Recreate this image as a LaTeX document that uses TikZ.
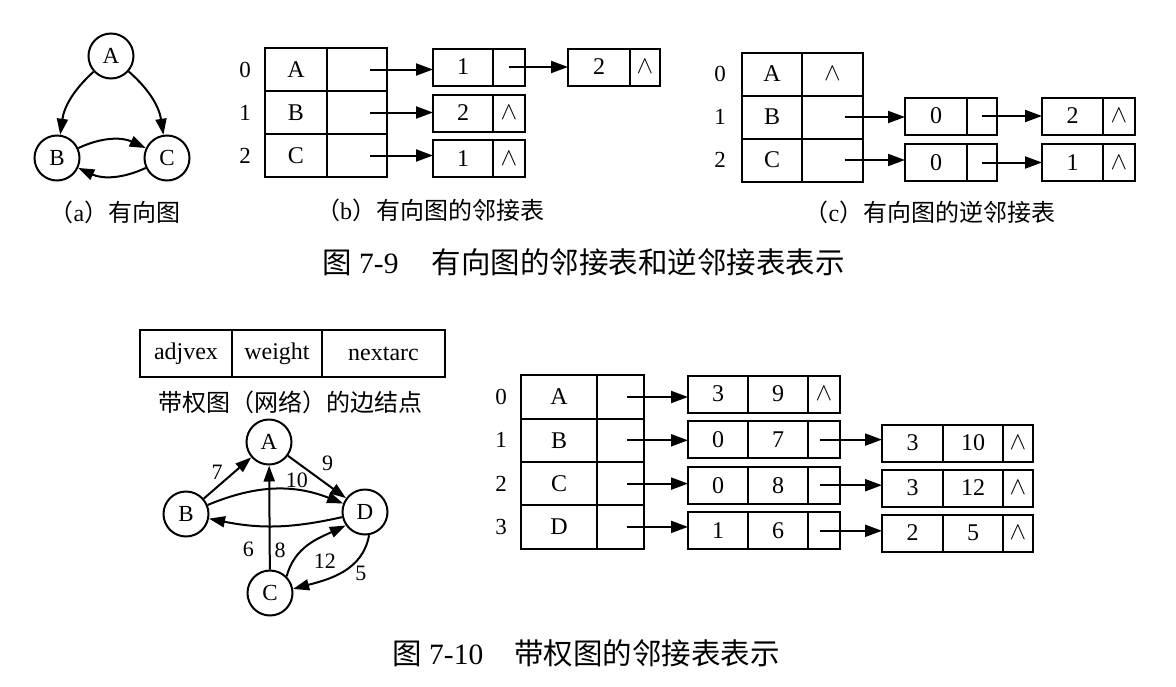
\documentclass[tikz,border=0pt]{standalone}
\usepackage{fontspec}
\setmainfont{Liberation Serif}
\newfontfamily\cjk{Noto Sans CJK SC}
\usetikzlibrary{arrows.meta,positioning}

\begin{document}
\begin{tikzpicture}[x=1pt, y=1pt, line width=2pt,
    cell/.style={draw, inner sep=0pt, outer sep=0pt, minimum height=43pt, font=\fontsize{24}{24}\selectfont},
    lnk/.style={draw, inner sep=0pt, outer sep=0pt, minimum height=37pt, font=\fontsize{24}{24}\selectfont},
    vtx/.style={draw, circle, minimum size=45pt, inner sep=0pt, font=\fontsize{23}{23}\selectfont},
    idx/.style={font=\fontsize{23}{23}\selectfont},
    captxt/.style={font=\fontsize{24}{24}\selectfont},
    ttl/.style={anchor=west, font=\fontsize{29.5}{29.5}\selectfont},
    wt/.style={font=\fontsize{22}{22}\selectfont, inner sep=1pt},
    ptr/.style={-{Triangle[length=17pt,width=12pt]}},
    edgearr/.style={-{Triangle[length=16pt,width=11pt]}}]
  \useasboundingbox (0,0) rectangle (1176,-686);

  % (a) directed graph
  \node[vtx] (gA) at (111,-56) {A};
  \node[vtx] (gB) at (57,-158) {B};
  \node[vtx] (gC) at (167,-158) {C};
  \draw[edgearr] (gA) to[bend right=20] (gB);
  \draw[edgearr] (gA) to[bend left=20] (gC);
  \draw[edgearr] (gB) to[bend left=25] (gC);
  \draw[edgearr] (gC) to[bend left=25] (gB);
  \node[captxt] (capa) at (115,-212) {{\cjk （}a{\cjk ）有向图}};

  % (b) adjacency list
  \foreach \v [count=\i from 0] in {A,B,C} {
    \node[idx] (bi\i) at (245,-69.5-43*\i) {\i};
    \node[cell, minimum width=62pt] (bh\i) at (296,-69.5-43*\i) {\v};
    \node[cell, minimum width=60pt, right=0pt of bh\i] (bp\i) {};
  }
  \node[lnk, minimum width=60pt] (b0) at (463,-67) {1};
  \node[lnk, minimum width=32pt, right=0pt of b0] (b0x) {};
  \node[lnk, minimum width=62pt] (b0b) at (599,-67) {2};
  \node[lnk, minimum width=30pt, right=0pt of b0b] (b0bx) {$\wedge$};
  \node[lnk, minimum width=60pt] (b1) at (463,-113) {2};
  \node[lnk, minimum width=32pt, right=0pt of b1] (b1x) {$\wedge$};
  \node[lnk, minimum width=60pt] (b2) at (463,-158.5) {1};
  \node[lnk, minimum width=32pt, right=0pt of b2] (b2x) {$\wedge$};
  \foreach \i in {0,1,2}
    \draw[ptr] ([xshift=13pt]bp\i.center) -- (b\i.west |- bp\i.center);
  \draw[ptr] (b0x.center) -- (b0b.west |- b0x.center);
  \node[captxt] (capb) at (430,-210) {{\cjk （}b{\cjk ）有向图的邻接表}};

  % (c) inverse adjacency list
  \foreach \v [count=\i from 0] in {A,B,C} {
    \node[idx] (ci\i) at (720,-74-43*\i) {\i};
    \node[cell, minimum width=60pt] (ch\i) at (772,-74-43*\i) {\v};
  }
  \node[cell, minimum width=61pt, right=0pt of ch0] (cp0) {$\wedge$};
  \node[cell, minimum width=61pt, right=0pt of ch1] (cp1) {};
  \node[cell, minimum width=61pt, right=0pt of ch2] (cp2) {};
  \node[lnk, minimum width=62pt] (c1) at (936,-116) {0};
  \node[lnk, minimum width=30pt, right=0pt of c1] (c1x) {};
  \node[lnk, minimum width=61pt] (c1b) at (1072.5,-116) {2};
  \node[lnk, minimum width=32pt, right=0pt of c1b] (c1bx) {$\wedge$};
  \node[lnk, minimum width=62pt] (c2) at (936,-162.5) {0};
  \node[lnk, minimum width=30pt, right=0pt of c2] (c2x) {};
  \node[lnk, minimum width=61pt] (c2b) at (1072.5,-162.5) {1};
  \node[lnk, minimum width=32pt, right=0pt of c2b] (c2bx) {$\wedge$};
  \foreach \i in {1,2} {
    \draw[ptr] ([xshift=12pt]cp\i.center) -- (c\i.west |- cp\i.center);
    \draw[ptr] (c\i x.center) -- (c\i b.west |- c\i x.center);
  }
  \node[captxt] (capc) at (930,-212) {{\cjk （}c{\cjk ）有向图的逆邻接表}};

  \node[ttl] (fig9) at (318,-262) {{\cjk 图} 7-9\hspace{33pt}{\cjk 有向图的邻接表和逆邻接表表示}};

  % edge node of a weighted graph
  \node[cell, minimum height=47pt, minimum width=92pt] (fa) at (186,-353.5) {adjvex};
  \node[cell, minimum height=47pt, minimum width=90pt, right=0pt of fa] (fw) {weight};
  \node[cell, minimum height=47pt, minimum width=123pt, right=0pt of fw] (fn) {nextarc};
  \node[captxt] (capf) at (290,-402) {\cjk 带权图（网络）的边结点};

  % weighted graph
  \node[vtx] (wA) at (269,-442) {A};
  \node[vtx] (wB) at (186,-514) {B};
  \node[vtx] (wD) at (365,-512) {D};
  \node[vtx] (wC) at (270,-593) {C};
  \draw[edgearr] (wB) -- node[wt, above left, xshift=-3pt, yshift=-3pt] (l7) {7} (wA);
  \draw[edgearr] (wA) -- node[wt, above right, pos=0.4, xshift=9pt] (l9) {9} (wD);
  \draw[edgearr] (wB) to[bend left=22] node[wt, above, pos=0.62, xshift=6pt] (l10) {10} (wD);
  \draw[edgearr] (wD) to[bend left=12] node[wt, below, pos=0.6, xshift=-15pt, yshift=-14pt] (l6) {6} (wB);
  \draw[edgearr] (wC) -- node[wt, right, pos=0.18, xshift=3pt] (l8) {8} (wA);
  \draw[edgearr] (wC.45) to[out=75, in=205] node[wt, below right, pos=0.55, yshift=-9pt] (l12) {12} (wD.215);
  \draw[edgearr] (wD.-80) to[out=-100, in=15] node[wt, below right, pos=0.35] (l5) {5} (wC.10);

  % adjacency list of the weighted graph
  \foreach \v [count=\i from 0] in {A,B,C,D} {
    \node[idx] (ti\i) at (501,-397-43.3*\i) {\i};
    \node[cell, minimum height=43.3pt, minimum width=76pt] (th\i) at (559,-397-43.3*\i) {\v};
    \node[cell, minimum height=43.3pt, minimum width=47pt, right=0pt of th\i] (tp\i) {};
  }
  \foreach \a/\w/\e [count=\i from 0] in {3/9/$\wedge$,0/7/,0/8/,1/6/} {
    \node[lnk, minimum width=60pt] (t\i) at (718,-394-45.6*\i) {\a};
    \node[lnk, minimum width=60pt, right=0pt of t\i] (t\i w) {\w};
    \node[lnk, minimum width=32pt, right=0pt of t\i w] (t\i x) {\e};
    \draw[ptr] ([xshift=6.5pt]tp\i.center) -- (t\i.west |- tp\i.center);
  }
  \foreach \a/\w [count=\i from 1] in {3/10,3/12,2/5} {
    \node[lnk, minimum width=61pt] (t\i b) at (912.5,-398-45*\i) {\a};
    \node[lnk, minimum width=60pt, right=0pt of t\i b] (t\i bw) {\w};
    \node[lnk, minimum width=30pt, right=0pt of t\i bw] (t\i bx) {$\wedge$};
    \draw[ptr] ([xshift=-4pt]t\i x.center) -- (t\i b.west |- t\i x.center);
  }

  \node[ttl] (fig10) at (388,-653) {{\cjk 图} 7-10\hspace{31pt}{\cjk 带权图的邻接表表示}};
\end{tikzpicture}
\end{document}
